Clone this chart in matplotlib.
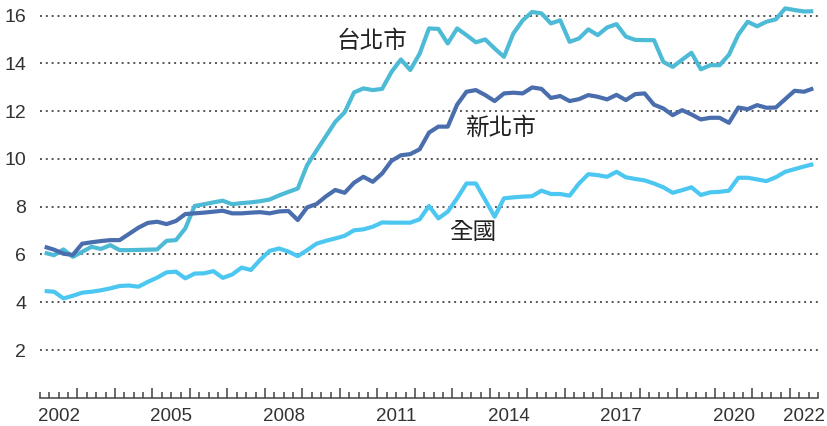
import matplotlib.pyplot as plt
import numpy as np

# quarterly series, 2002Q1 .. 2022Q3
start_year = 2002
taipei = [6.07, 5.97, 6.21, 5.90, 6.11, 6.32, 6.23, 6.39, 6.18, 6.18, 6.19, 6.20,
          6.21, 6.57, 6.60, 7.09, 8.03, 8.10, 8.18, 8.25, 8.10, 8.15, 8.18, 8.23,
          8.30, 8.47, 8.62, 8.76, 9.74, 10.35, 10.95, 11.55, 11.95, 12.78, 12.95, 12.88,
          12.93, 13.64, 14.16, 13.72, 14.40, 15.46, 15.44, 14.83, 15.46, 15.18, 14.88, 15.00,
          14.62, 14.27, 15.25, 15.80, 16.15, 16.09, 15.67, 15.80, 14.90, 15.04, 15.42, 15.18,
          15.50, 15.64, 15.12, 14.98, 14.97, 14.97, 14.06, 13.85, 14.15, 14.44, 13.75, 13.92,
          13.92, 14.36, 15.20, 15.74, 15.55, 15.74, 15.84, 16.30, 16.23, 16.17, 16.18]
new_taipei = [6.32, 6.20, 6.03, 5.98, 6.45, 6.51, 6.56, 6.60, 6.60, 6.86, 7.12, 7.32,
              7.37, 7.27, 7.40, 7.69, 7.72, 7.75, 7.79, 7.83, 7.72, 7.72, 7.75, 7.77,
              7.72, 7.80, 7.82, 7.44, 7.97, 8.11, 8.43, 8.70, 8.58, 9.00, 9.25, 9.04,
              9.39, 9.92, 10.15, 10.20, 10.40, 11.10, 11.35, 11.35, 12.27, 12.81, 12.88, 12.67,
              12.42, 12.74, 12.77, 12.74, 12.99, 12.93, 12.55, 12.63, 12.42, 12.50, 12.67, 12.60,
              12.49, 12.68, 12.46, 12.71, 12.74, 12.27, 12.11, 11.83, 12.04, 11.86, 11.65, 11.72,
              11.72, 11.51, 12.15, 12.08, 12.25, 12.14, 12.15, 12.50, 12.85, 12.81, 12.95]
national = [4.47, 4.44, 4.16, 4.27, 4.40, 4.44, 4.50, 4.58, 4.68, 4.70, 4.65, 4.85,
            5.03, 5.25, 5.28, 5.00, 5.20, 5.21, 5.30, 5.02, 5.16, 5.45, 5.35, 5.78,
            6.15, 6.25, 6.12, 5.93, 6.18, 6.45, 6.57, 6.67, 6.78, 7.01, 7.05, 7.16,
            7.34, 7.33, 7.33, 7.33, 7.47, 8.03, 7.51, 7.79, 8.35, 8.97, 8.97, 8.28,
            7.58, 8.35, 8.39, 8.42, 8.44, 8.67, 8.53, 8.53, 8.46, 8.97, 9.36, 9.32,
            9.25, 9.46, 9.23, 9.16, 9.10, 8.97, 8.81, 8.58, 8.69, 8.81, 8.49, 8.60,
            8.62, 8.67, 9.21, 9.21, 9.14, 9.07, 9.23, 9.46, 9.57, 9.68, 9.78]
year_labels = [2002, 2005, 2008, 2011, 2014, 2017, 2020, 2022]
yticks = [2, 4, 6, 8, 10, 12, 14, 16]

x = start_year + (np.arange(len(taipei)) + 0.5) / 4

num_font = 'Liberation Sans'

fig = plt.figure(figsize=(8.27, 4.26), dpi=100)
ax = fig.add_axes([40/827, (426-397.8)/426, 778/827, 397.8/426])

ax.plot(x, taipei, color='#4DBBD6', lw=3, solid_capstyle='butt', zorder=3)
ax.plot(x, new_taipei, color='#4A6EAD', lw=3, solid_capstyle='butt', zorder=3)
ax.plot(x, national, color='#4CC7F1', lw=3, solid_capstyle='butt', zorder=3)

for yt in yticks:
    ax.axhline(yt, color='#555555', lw=1.4, ls=(0, (1, 2)), zorder=1)

ax.set_xlim(2002, 2022.75)
ax.set_ylim(0, 16.65)

for s in ['top', 'right', 'left']:
    ax.spines[s].set_visible(False)
ax.spines['bottom'].set_color('#444444')
ax.spines['bottom'].set_linewidth(1.1)

ax.set_yticks(yticks)
ax.set_yticklabels([str(v) for v in yticks], fontsize=14, color='#333333',
                   family=num_font)
ax.tick_params(axis='y', length=0, pad=10)

ax.set_xticks(np.arange(2003, 2023))
ax.set_xticks(np.arange(2002, 2022.8, 0.25), minor=True)
ax.set_xticklabels([])
ax.tick_params(axis='x', which='major', direction='in', length=7, width=1.1, color='#444444')
ax.tick_params(axis='x', which='minor', direction='in', length=4, width=1.1, color='#444444')

for yr in year_labels:
    xpos = yr + 0.5 if yr != 2022 else 2022.38   # last label pulled in to fit
    ax.text(xpos, -0.047, str(yr), transform=ax.get_xaxis_transform(),
            ha='center', va='center', fontsize=13.5, color='#333333',
            family=num_font, clip_on=False)

cjk = ['Noto Sans CJK TC', 'DejaVu Sans']
ax.text(start_year + (34.88 + 0.5) / 4, 14.9, '台北市', family=cjk, fontsize=17,
        color='#222222', ha='center', va='center')
ax.text(start_year + (48.75 + 0.5) / 4, 11.29, '新北市', family=cjk, fontsize=17,
        color='#222222', ha='center', va='center')
ax.text(start_year + (45.63 + 0.5) / 4, 6.9, '全國', family=cjk, fontsize=17,
        color='#222222', ha='center', va='center')

fig.savefig('out.png', dpi=100)
